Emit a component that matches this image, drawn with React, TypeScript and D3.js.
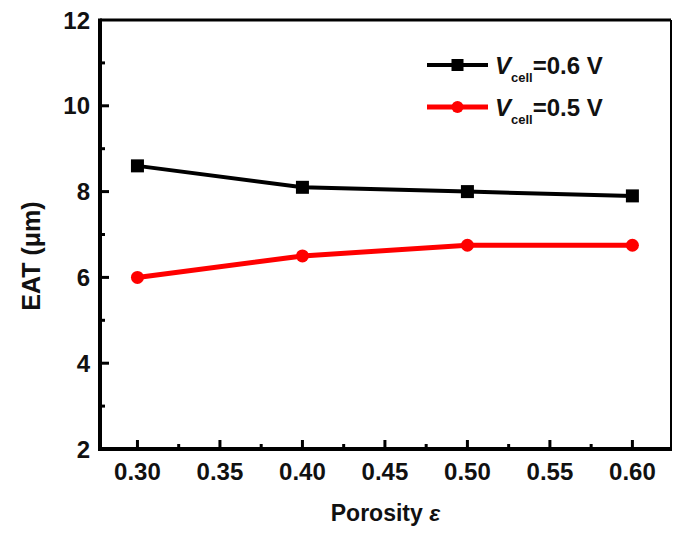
import React from "react";
import * as d3 from "d3";

const porosity = [0.3, 0.4, 0.5, 0.6];
const eat06 = [8.6, 8.1, 8.0, 7.9];
const eat05 = [6.0, 6.5, 6.75, 6.75];
const xTicks = [0.3, 0.35, 0.4, 0.45, 0.5, 0.55, 0.6];
const xMinor = [0.325, 0.375, 0.425, 0.475, 0.525, 0.575];
const yTicks = [2, 4, 6, 8, 10, 12];
const yMinor = [3, 5, 7, 9, 11];

const W = 673, H = 536;
const L = 100, R = 671, T = 20, B = 449;
const FONT = "'Liberation Sans', Arial, sans-serif";

export default function App() {
  const x = d3.scaleLinear().domain([0.2773, 0.6234]).range([L, R]);
  const y = d3.scaleLinear().domain([2, 12]).range([B, T]);
  const line = d3.line<number>().x((d, i) => x(porosity[i])).y((d) => y(d));
  const fmt = d3.format(".2f");
  return (
    <svg width={W} height={H} style={{ position: "absolute", left: 0, top: 0, background: "#fff" }}
      fontFamily={FONT} fontWeight="bold">
      <rect width={W} height={H} fill="#fff" />
      {/* frame */}
      <line x1={L} x2={R} y1={T} y2={T} stroke="#000" strokeWidth={3} />
      <line x1={R} x2={R} y1={T} y2={B} stroke="#000" strokeWidth={2} />
      <line x1={L} x2={L} y1={T - 1.5} y2={B + 2} stroke="#000" strokeWidth={4} />
      <line x1={L - 2} x2={R + 1} y1={B} y2={B} stroke="#000" strokeWidth={4} />
      {/* y ticks */}
      {yTicks.map((t) => (
        <g key={"y" + t}>
          {t !== 2 && t !== 12 && <line x1={L} x2={L + 9} y1={y(t)} y2={y(t)} stroke="#000" strokeWidth={3} />}
          <text x={90} y={y(t)} dy="0.36em" textAnchor="end" fontSize={24} fill="#111">{t}</text>
        </g>
      ))}
      {yMinor.map((t) => (
        <line key={"ym" + t} x1={L} x2={L + 5} y1={y(t)} y2={y(t)} stroke="#000" strokeWidth={3} />
      ))}
      {/* x ticks */}
      {xTicks.map((t) => (
        <g key={"x" + t}>
          <line x1={x(t)} x2={x(t)} y1={B} y2={B - 9} stroke="#000" strokeWidth={3} />
          <text x={x(t)} y={471} dy="0.36em" textAnchor="middle" fontSize={24} fill="#111">{fmt(t)}</text>
        </g>
      ))}
      {xMinor.map((t) => (
        <line key={"xm" + t} x1={x(t)} x2={x(t)} y1={B} y2={B - 5} stroke="#000" strokeWidth={3} />
      ))}
      {/* axis labels */}
      <text x={(L + R) / 2} y={513} dy="0.36em" textAnchor="middle" fontSize={23} fill="#111">
        Porosity <tspan fontStyle="italic">ε</tspan>
      </text>
      <text transform={`translate(31,256) rotate(-90)`} dy="0.36em" textAnchor="middle" fontSize={25} fill="#111">
        EAT (μm)
      </text>
      {/* series */}
      <path d={line(eat06) || ""} fill="none" stroke="#000" strokeWidth={4} />
      {eat06.map((v, i) => (
        <rect key={"s" + i} x={x(porosity[i]) - 6.5} y={y(v) - 6.5} width={13} height={13} fill="#000" />
      ))}
      <path d={line(eat05) || ""} fill="none" stroke="#ff0000" strokeWidth={5} />
      {eat05.map((v, i) => (
        <circle key={"c" + i} cx={x(porosity[i])} cy={y(v)} r={6.5} fill="#ff0000" />
      ))}
      {/* legend */}
      <line x1={427} x2={488} y1={65} y2={65} stroke="#000" strokeWidth={4} />
      <rect x={457.5 - 6} y={65 - 6} width={12} height={12} fill="#000" />
      <line x1={427} x2={488} y1={107} y2={107} stroke="#ff0000" strokeWidth={5} />
      <circle cx={457.5} cy={107} r={6} fill="#ff0000" />
      <text x={495} y={65} dy="0.36em" fontSize={24} fill="#111">
        <tspan fontStyle="italic">V</tspan>
        <tspan fontSize={13} dy={8}>cell</tspan>
        <tspan dy={-8}>=0.6 V</tspan>
      </text>
      <text x={495} y={107} dy="0.36em" fontSize={24} fill="#111">
        <tspan fontStyle="italic">V</tspan>
        <tspan fontSize={13} dy={8}>cell</tspan>
        <tspan dy={-8}>=0.5 V</tspan>
      </text>
    </svg>
  );
}
